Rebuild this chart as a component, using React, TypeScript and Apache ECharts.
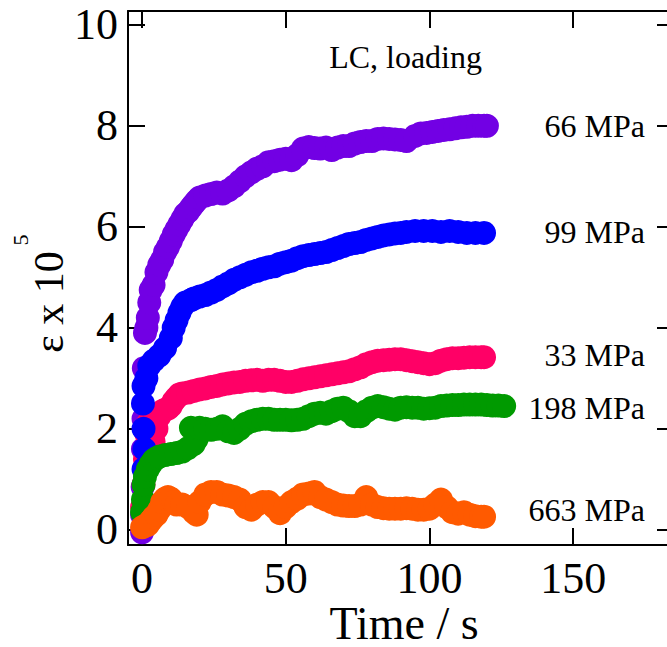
import React, { useEffect, useRef } from "react";
import * as echarts from "echarts";

// Creep strain (x 10^5) versus time for each stress level, LC loading.
const timeTicks = [0, 50, 100, 150];
const strainTicks = [0, 2, 4, 6, 8, 10];

const seriesNames = ["66 MPa", "33 MPa", "99 MPa", "198 MPa", "663 MPa"];
const seriesColors = ["#7200E4", "#FF0066", "#0000FF", "#009A00", "#FF5A00"];

const s66: number[][] = [
  [0, -0.05], [0, 0.3], [0.2, 0.85], [0.3, 1.6], [0.5, 2.2], [0.6, 3.2], [1, 3.9], [1.5, 4.0],
  [2, 4.2], [2.5, 4.5], [3, 4.75], [4, 4.85], [5, 5.1], [6, 5.25], [7, 5.35], [8, 5.5],
  [9, 5.6], [10, 5.72], [11, 5.85], [12, 5.95], [13, 6.05], [14, 6.15], [15, 6.25], [16, 6.3],
  [17, 6.38], [18, 6.45], [19, 6.52], [20, 6.58], [22, 6.62], [24, 6.65], [26, 6.68], [28, 6.66],
  [30, 6.72], [32, 6.8], [34, 6.9], [36, 7.0], [38, 7.08], [40, 7.15], [42, 7.2], [44, 7.28],
  [46, 7.3], [48, 7.33], [50, 7.35], [52, 7.32], [54, 7.42], [56, 7.55], [58, 7.58], [60, 7.56],
  [62, 7.55], [64, 7.57], [66, 7.52], [68, 7.57], [70, 7.6], [72, 7.6], [74, 7.65], [76, 7.68],
  [78, 7.7], [80, 7.7], [82, 7.74], [84, 7.75], [86, 7.74], [88, 7.73], [90, 7.72], [92, 7.7],
  [95, 7.8], [97, 7.85], [99, 7.86], [101, 7.88], [103, 7.9], [105, 7.92], [107, 7.93], [109, 7.95],
  [111, 7.97], [113, 7.98], [115, 8.0], [117, 8.0], [119, 8.0], [120, 8.0],
];

const s33: number[][] = [
  [0, 0.45], [0.5, 0.9], [1, 1.4], [1.5, 1.9], [2, 2.1], [3, 2.2], [4, 1.75], [4.5, 1.6],
  [5, 2.0], [6, 2.25], [7, 2.35], [8, 2.38], [9, 2.4], [10, 2.45], [11, 2.55], [12, 2.62],
  [13, 2.68], [14, 2.7], [16, 2.72], [18, 2.75], [20, 2.78], [22, 2.8], [24, 2.83], [26, 2.85],
  [28, 2.88], [30, 2.9], [32, 2.92], [34, 2.93], [36, 2.95], [38, 2.96], [40, 2.97], [42, 2.95],
  [44, 2.97], [46, 2.97], [48, 2.95], [50, 2.93], [52, 2.93], [54, 2.95], [56, 2.98], [58, 3.0],
  [60, 3.02], [62, 3.04], [64, 3.06], [66, 3.08], [68, 3.1], [70, 3.12], [72, 3.14], [74, 3.18],
  [76, 3.22], [78, 3.28], [80, 3.32], [82, 3.35], [84, 3.36], [86, 3.37], [88, 3.38], [90, 3.38],
  [92, 3.36], [94, 3.34], [96, 3.32], [98, 3.3], [100, 3.28], [102, 3.3], [104, 3.35], [106, 3.38],
  [108, 3.4], [110, 3.4], [112, 3.41], [114, 3.42], [116, 3.42], [118, 3.42], [119, 3.42],
];

const s99: number[][] = [
  [0.5, 1.2], [0.8, 1.6], [0.5, 2.0], [0.3, 2.5], [0.5, 2.85], [1.5, 3.0], [2.5, 3.25], [4, 3.35],
  [6, 3.45], [8, 3.6], [10, 3.8], [11, 4.0], [12, 4.15], [13, 4.3], [14, 4.42], [15, 4.5],
  [17, 4.55], [18, 4.58], [20, 4.62], [22, 4.65], [24, 4.7], [26, 4.75], [28, 4.82], [30, 4.88],
  [32, 4.95], [34, 5.0], [36, 5.05], [38, 5.1], [40, 5.13], [42, 5.17], [44, 5.2], [46, 5.22],
  [48, 5.27], [50, 5.3], [52, 5.33], [54, 5.38], [56, 5.42], [58, 5.44], [60, 5.46], [62, 5.48],
  [64, 5.5], [66, 5.54], [68, 5.58], [70, 5.62], [72, 5.66], [74, 5.68], [76, 5.7], [78, 5.74],
  [80, 5.77], [82, 5.8], [84, 5.83], [86, 5.85], [88, 5.87], [90, 5.88], [92, 5.9], [95, 5.92],
  [98, 5.92], [101, 5.92], [104, 5.9], [107, 5.92], [110, 5.9], [113, 5.88], [116, 5.88], [119, 5.88],
];

const s198: number[][] = [
  [0, 0.35], [0.3, 0.6], [0.5, 0.9], [1, 1.05], [2, 1.2], [3, 1.3], [4, 1.38], [5, 1.42],
  [6, 1.45], [8, 1.48], [10, 1.5], [12, 1.52], [14, 1.55], [16, 1.62], [18, 1.7], [19, 1.8],
  [17, 2.02], [20, 2.02], [22, 2.0], [24, 1.98], [26, 2.0], [28, 2.05], [30, 1.95], [32, 1.92],
  [34, 2.0], [36, 2.1], [38, 2.15], [40, 2.18], [42, 2.2], [44, 2.2], [46, 2.18], [48, 2.18],
  [50, 2.18], [52, 2.17], [54, 2.18], [56, 2.2], [58, 2.25], [60, 2.3], [62, 2.32], [64, 2.3],
  [66, 2.35], [68, 2.4], [70, 2.42], [72, 2.35], [74, 2.25], [76, 2.25], [78, 2.35], [80, 2.42],
  [82, 2.45], [84, 2.43], [86, 2.4], [88, 2.38], [90, 2.42], [92, 2.43], [94, 2.42], [96, 2.42],
  [98, 2.4], [100, 2.41], [102, 2.42], [104, 2.45], [106, 2.46], [108, 2.47], [110, 2.47], [112, 2.48],
  [114, 2.48], [116, 2.48], [118, 2.48], [120, 2.47], [122, 2.46], [124, 2.46], [126, 2.45],
];

const s663: number[][] = [
  [0, 0.05], [1, 0.08], [2, 0.1], [3, 0.18], [4, 0.25], [5, 0.3], [6, 0.4], [7, 0.55],
  [8, 0.62], [9, 0.65], [10, 0.62], [11, 0.55], [12, 0.5], [14, 0.5], [16, 0.45], [18, 0.35],
  [19, 0.3], [20, 0.55], [22, 0.7], [24, 0.75], [26, 0.75], [28, 0.7], [30, 0.68], [32, 0.65],
  [34, 0.6], [36, 0.45], [38, 0.4], [40, 0.5], [42, 0.55], [44, 0.55], [46, 0.45], [48, 0.33],
  [50, 0.45], [52, 0.55], [54, 0.62], [56, 0.7], [58, 0.72], [60, 0.75], [62, 0.65], [64, 0.6],
  [66, 0.55], [68, 0.5], [70, 0.48], [72, 0.47], [74, 0.47], [76, 0.5], [78, 0.65], [80, 0.5],
  [82, 0.45], [84, 0.43], [86, 0.42], [88, 0.42], [90, 0.42], [92, 0.43], [94, 0.42], [96, 0.4],
  [98, 0.4], [100, 0.42], [102, 0.5], [104, 0.6], [106, 0.45], [108, 0.35], [110, 0.32], [112, 0.35],
  [114, 0.3], [116, 0.27], [118, 0.26], [119, 0.26],
];

const seriesData = [s66, s33, s99, s198, s663];

// Stress labels at the right-hand end of each curve: [text, y centre in px]
const stressLabels: [string, number][] = [
  ["66 MPa", 126],
  ["99 MPa", 232],
  ["33 MPa", 355],
  ["198 MPa", 408],
  ["663 MPa", 510],
];

const SERIF = "'Liberation Serif', 'Times New Roman', serif";
const AXIS_COLOR = "#000";

export default function App() {
  const ref = useRef<HTMLDivElement>(null);

  useEffect(() => {
    if (!ref.current) return;
    const chart = echarts.init(ref.current, null, { renderer: "svg" });

    const axisLine = { show: true, onZero: false, lineStyle: { color: AXIS_COLOR, width: 2 } };
    const tick = (values: number[]) => ({
      show: true,
      inside: true,
      length: 17,
      customValues: values,
      lineStyle: { color: AXIS_COLOR, width: 2 },
    });

    const xMin = -4.9;
    const xMax = 185.1;
    const yMin = -0.3;
    const yMax = 10.274;

    chart.setOption({
      animation: false,
      backgroundColor: "#fff",
      grid: {
        left: 128,
        top: 11,
        width: 546,
        height: 534,
        containLabel: false,
        outerBoundsMode: "none",
      },
      xAxis: [
        {
          type: "value",
          position: "bottom",
          min: xMin,
          max: xMax,
          axisLine,
          axisTick: tick(timeTicks),
          splitLine: { show: false },
          axisLabel: {
            customValues: timeTicks,
            fontFamily: SERIF,
            fontSize: 44,
            lineHeight: 36,
            color: AXIS_COLOR,
            margin: 15,
          },
        },
        {
          type: "value",
          position: "top",
          min: xMin,
          max: xMax,
          axisLine,
          axisTick: tick(timeTicks),
          axisLabel: { show: false },
          splitLine: { show: false },
        },
      ],
      yAxis: [
        {
          type: "value",
          position: "left",
          min: yMin,
          max: yMax,
          axisLine,
          axisTick: tick(strainTicks),
          splitLine: { show: false },
          axisLabel: {
            customValues: strainTicks,
            fontFamily: SERIF,
            fontSize: 44,
            color: AXIS_COLOR,
            margin: 10,
          },
        },
        {
          type: "value",
          position: "right",
          min: yMin,
          max: yMax,
          axisLine,
          axisTick: tick(strainTicks),
          axisLabel: { show: false },
          splitLine: { show: false },
        },
      ],
      series: seriesData.map((data, i) => ({
        name: seriesNames[i],
        type: "scatter",
        xAxisIndex: 0,
        yAxisIndex: 0,
        data,
        symbol: "circle",
        symbolSize: 24,
        itemStyle: { color: seriesColors[i], opacity: 1 },
        emphasis: { disabled: true },
        z: 2 + i,
      })),
      graphic: [
        {
          type: "text",
          x: 404,
          y: 623,
          style: {
            text: "Time / s",
            font: `46px ${SERIF}`,
            lineHeight: 42,
            fill: AXIS_COLOR,
            align: "center",
            verticalAlign: "middle",
          },
        },
        {
          type: "text",
          x: 49,
          y: 302,
          rotation: Math.PI / 2,
          style: {
            text: "ε x 10",
            font: `42px ${SERIF}`,
            fill: AXIS_COLOR,
            align: "center",
            verticalAlign: "middle",
          },
        },
        {
          type: "text",
          x: 20,
          y: 240,
          rotation: Math.PI / 2,
          style: {
            text: "5",
            font: `22px ${SERIF}`,
            fill: AXIS_COLOR,
            align: "center",
            verticalAlign: "middle",
          },
        },
        {
          type: "text",
          x: 482,
          y: 57,
          style: {
            text: "LC, loading",
            font: `32px ${SERIF}`,
            fill: AXIS_COLOR,
            align: "right",
            verticalAlign: "middle",
          },
        },
        ...stressLabels.map(([text, y]) => ({
          type: "text",
          x: 645,
          y,
          style: {
            text,
            font: `32px ${SERIF}`,
            fill: AXIS_COLOR,
            align: "right",
            verticalAlign: "middle",
          },
        })),
      ],
    });

    return () => chart.dispose();
  }, []);

  return (
    <div
      ref={ref}
      style={{ position: "absolute", left: 0, top: 0, width: 667, height: 647 }}
    />
  );
}
